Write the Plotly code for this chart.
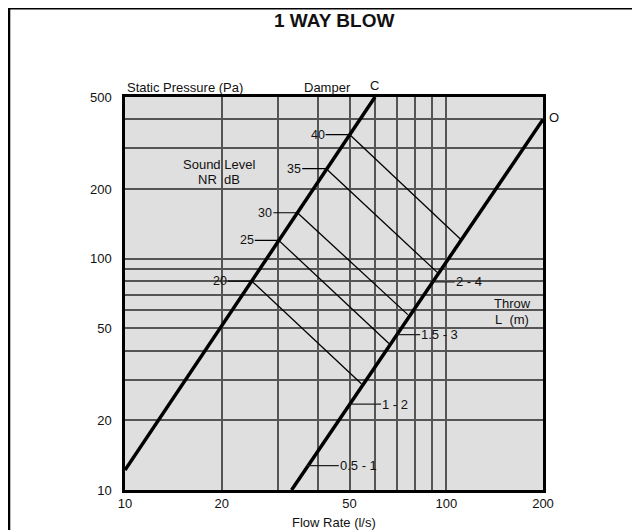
import math
import plotly.graph_objects as go

# ---------------- data ----------------
# Damper line C (closed) and O (open): flow rate (l/s) vs static pressure (Pa)
c_flow = [10, 60]
c_pres = [12.2, 500]
o_flow = [33, 200]
o_pres = [10, 400]

# Sound level NR dB lines (start on C, end on O)
nr_levels = ["20", "25", "30", "35", "40"]
nr_flow_start = [24.8, 30.1, 34.4, 42.3, 50.0]
nr_pres_start = [80, 120, 158, 245, 344]
nr_flow_end = [54.4, 66.3, 75.9, 94.1, 111]
nr_pres_end = [28.8, 43.0, 57.3, 86.8, 121]

# Throw labels on line O
throw_labels = ["0.5 - 1", "1 - 2", "1.5 - 3", "2 - 4"]
throw_flow = [36.8, 50.2, 70.3, 90.7]
throw_pres = [12.75, 23.5, 47.0, 79.3]
throw_tick_len = [32, 31, 23, 22]

# axis ticks / grid
x_grid = [10, 20, 30, 40, 50, 60, 70, 80, 90, 100, 200]
x_text = ["10", "20", "", "", "50", "", "", "", "", "100", "200"]
y_grid = [10, 20, 30, 40, 50, 60, 70, 80, 90, 100, 200, 300, 400, 500]
y_text = ["10", "20", "", "", "50", "", "", "", "", "100", "200", "", "", "500"]

FONT = "Liberation Sans, Arial, sans-serif"
TXT = "#111111"

# page body has an 8px margin: the figure is offset by it
OFF = 8

fig = go.Figure()

# sound level lines
for i in range(len(nr_levels)):
    fig.add_trace(go.Scatter(
        x=[nr_flow_start[i], nr_flow_end[i]],
        y=[nr_pres_start[i], nr_pres_end[i]],
        mode="lines", line=dict(color="black", width=1.3),
        hoverinfo="skip", showlegend=False))

# damper lines
fig.add_trace(go.Scatter(x=c_flow, y=c_pres, mode="lines",
                         line=dict(color="black", width=3.5), showlegend=False))
fig.add_trace(go.Scatter(x=o_flow, y=o_pres, mode="lines",
                         line=dict(color="black", width=3.5), showlegend=False))

annotations = []
# NR labels with leader ticks to the left
for lab, fx, py in zip(nr_levels, nr_flow_start, nr_pres_start):
    annotations.append(dict(
        x=math.log10(fx), y=math.log10(py), xref="x", yref="y",
        text=lab, showarrow=True, arrowhead=0, arrowwidth=1.2, arrowcolor="black",
        ax=-24, ay=0, xanchor="right", yanchor="middle", borderpad=0,
        font=dict(family=FONT, size=12.5, color=TXT)))
# throw labels with leader ticks to the right
for lab, fx, py, tl in zip(throw_labels, throw_flow, throw_pres, throw_tick_len):
    annotations.append(dict(
        x=math.log10(fx), y=math.log10(py), xref="x", yref="y",
        text=lab, showarrow=True, arrowhead=0, arrowwidth=1.2, arrowcolor="#222",
        ax=tl, ay=0, xanchor="left", yanchor="middle", borderpad=0,
        font=dict(family=FONT, size=13, color=TXT)))

def pa(text, x, y, size=13, xanchor="center", bold=False):
    annotations.append(dict(
        text=("<b>%s</b>" % text) if bold else text, x=x, y=y,
        xref="paper", yref="paper", showarrow=False,
        xanchor=xanchor, yanchor="middle",
        font=dict(family=FONT, size=size, color=TXT)))

# plot area on screen: x 125..535 px, y 97..490 px
def px(x):
    return (x - 125) / 410.0

def py_(y):
    return (490 - y) / 393.0

pa("1 WAY BLOW", px(330), py_(20), size=19, bold=True)
pa("Static Pressure (Pa)", px(125), py_(87), xanchor="left")
pa("Damper", px(324), py_(87))
pa("C", px(370), py_(86))
pa("O", px(546), py_(117))
pa("Sound Level", px(217), py_(164))
pa("NR\u00a0 dB", px(217), py_(179.5))
pa("Throw", px(505), py_(303))
pa("L\u00a0\u00a0(m)", px(505), py_(319))
pa("Flow Rate (l/s)", px(330), py_(522))

fig.update_layout(
    width=640 - OFF, height=530 - OFF,
    margin=dict(l=125 - OFF, r=105 - OFF, t=97 - OFF, b=40, autoexpand=False),
    paper_bgcolor="white", plot_bgcolor="#dfdfdf",
    font=dict(family=FONT, size=13, color=TXT),
    annotations=annotations,
    shapes=[dict(type="rect", xref="paper", yref="paper",
                 x0=px(11), x1=px(634.5), y0=py_(560), y1=py_(8),
                 line=dict(color="black", width=3), fillcolor="rgba(0,0,0,0)",
                 layer="above")],
)
fig.update_xaxes(type="log", range=[1, math.log10(200)],
                 tickmode="array", tickvals=x_grid, ticktext=x_text,
                 showgrid=True, gridcolor="#555555", gridwidth=1.5,
                 showline=True, mirror=True, linecolor="black", linewidth=2.5,
                 ticks="", zeroline=False, automargin=False,
                 tickfont=dict(family=FONT, size=13, color=TXT))
fig.update_yaxes(type="log", range=[1, math.log10(500)],
                 tickmode="array", tickvals=y_grid, ticktext=y_text,
                 showgrid=True, gridcolor="#555555", gridwidth=1.5,
                 showline=True, mirror=True, linecolor="black", linewidth=2.5,
                 ticks="", zeroline=False, automargin=False,
                 ticklabelstandoff=8,
                 tickfont=dict(family=FONT, size=13, color=TXT))

fig.write_html("out.html")
